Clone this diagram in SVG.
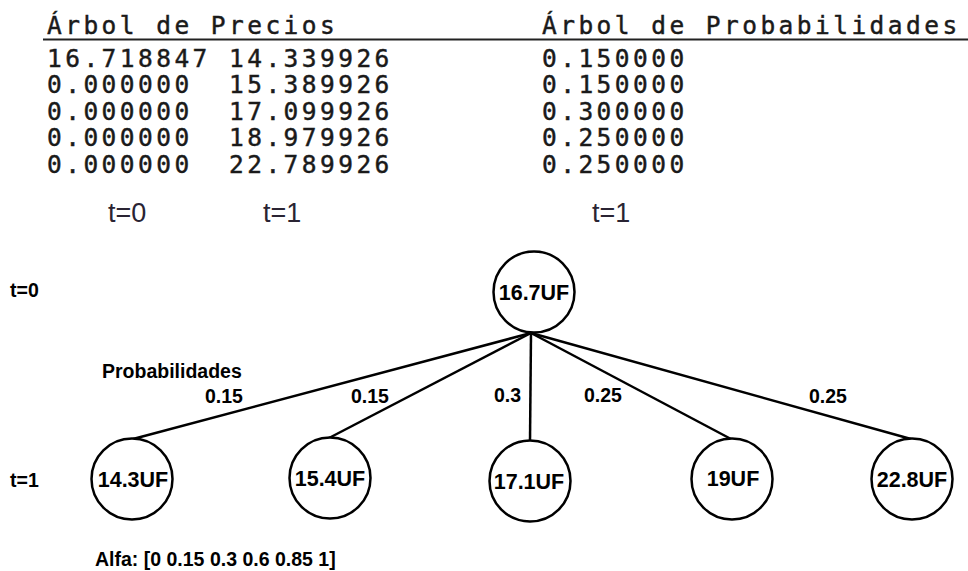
<svg xmlns="http://www.w3.org/2000/svg" width="968" height="571" viewBox="0 0 968 571">
  <style>
    .mono { font-family: "DejaVu Sans Mono", "Liberation Mono", monospace; font-size: 24.5px; letter-spacing: 3.45px; fill: #1a1a1a; stroke: #1a1a1a; stroke-width: 0.45px; }
    .period { font-family: "Liberation Sans", Arial, sans-serif; font-size: 27px; fill: #2a2433; }
    .lbl { font-family: "Liberation Sans", Arial, sans-serif; font-size: 19.5px; font-weight: bold; fill: #000; }
    .val { font-family: "Liberation Sans", Arial, sans-serif; font-size: 21.5px; font-weight: bold; fill: #000; text-anchor: middle; }
    .node circle { fill: #fff; stroke: #000; stroke-width: 2.5; }
    .edge { stroke: #000; stroke-width: 2.5; fill: none; }
  </style>

  <rect width="968" height="571" fill="#fff"/>

  <!-- console output table -->
  <g id="table">
    <text class="mono" x="47" y="34">Árbol de Precios</text>
    <text class="mono" x="542" y="34">Árbol de Probabilidades</text>
    <line x1="43" y1="39.5" x2="968" y2="39.5" stroke="#222" stroke-width="2"/>

    <g id="col-t0">
      <text class="mono" x="47" y="66.5">16.718847</text>
      <text class="mono" x="47" y="93">0.000000</text>
      <text class="mono" x="47" y="119.5">0.000000</text>
      <text class="mono" x="47" y="146">0.000000</text>
      <text class="mono" x="47" y="172.5">0.000000</text>
    </g>
    <g id="col-t1">
      <text class="mono" x="229" y="66.5">14.339926</text>
      <text class="mono" x="229" y="93">15.389926</text>
      <text class="mono" x="229" y="119.5">17.099926</text>
      <text class="mono" x="229" y="146">18.979926</text>
      <text class="mono" x="229" y="172.5">22.789926</text>
    </g>
    <g id="col-prob">
      <text class="mono" x="542" y="66.5">0.150000</text>
      <text class="mono" x="542" y="93">0.150000</text>
      <text class="mono" x="542" y="119.5">0.300000</text>
      <text class="mono" x="542" y="146">0.250000</text>
      <text class="mono" x="542" y="172.5">0.250000</text>
    </g>

    <text class="period" x="108" y="222">t=0</text>
    <text class="period" x="263" y="222">t=1</text>
    <text class="period" x="592" y="222">t=1</text>
  </g>

  <!-- period labels -->
  <text class="lbl" x="10" y="297">t=0</text>
  <text class="lbl" x="10" y="487">t=1</text>
  <text class="lbl" x="102" y="378">Probabilidades</text>

  <!-- branches -->
  <g id="connectors">
    <line class="edge" x1="531" y1="333" x2="133" y2="439"/>
    <line class="edge" x1="531" y1="333" x2="329" y2="438"/>
    <line class="edge" x1="531" y1="333" x2="530" y2="441"/>
    <line class="edge" x1="531" y1="333" x2="731" y2="439"/>
    <line class="edge" x1="531" y1="333" x2="911" y2="439"/>
    <text class="lbl" x="205" y="403">0.15</text>
    <text class="lbl" x="351" y="403">0.15</text>
    <text class="lbl" x="494" y="402">0.3</text>
    <text class="lbl" x="584" y="402">0.25</text>
    <text class="lbl" x="809" y="403">0.25</text>
  </g>

  <g id="root" class="node">
    <circle cx="534" cy="292" r="40.5"/>
    <text class="val" x="534" y="300">16.7UF</text>
  </g>
  <g id="n1" class="node">
    <circle cx="132" cy="479" r="40.5"/>
    <text class="val" x="133" y="487">14.3UF</text>
  </g>
  <g id="n2" class="node">
    <circle cx="330" cy="478" r="40.5"/>
    <text class="val" x="330" y="486">15.4UF</text>
  </g>
  <g id="n3" class="node">
    <circle cx="530" cy="481" r="40.5"/>
    <text class="val" x="529" y="489">17.1UF</text>
  </g>
  <g id="n4" class="node">
    <circle cx="732" cy="479" r="40.5"/>
    <text class="val" x="733" y="486">19UF</text>
  </g>
  <g id="n5" class="node">
    <circle cx="912" cy="479" r="40.5"/>
    <text class="val" x="912" y="487">22.8UF</text>
  </g>

  <text class="lbl" x="95" y="566">Alfa: [0 0.15 0.3 0.6 0.85 1]</text>
</svg>
